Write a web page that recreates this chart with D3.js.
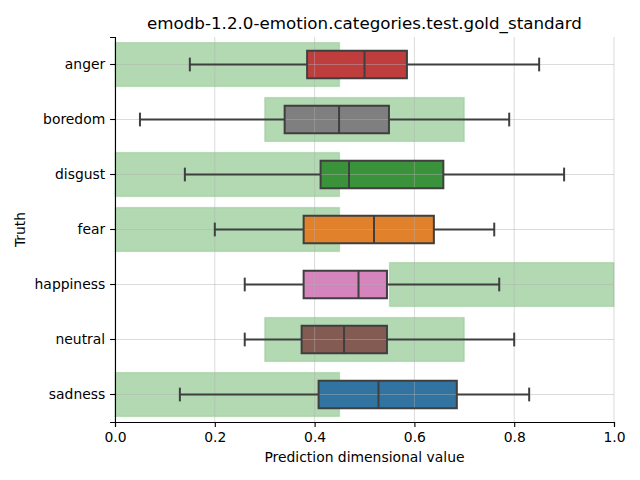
<!DOCTYPE html>
<html>
<head>
<meta charset="utf-8">
<script src="https://cdn.jsdelivr.net/npm/d3@7"></script>
<style>
  html, body { margin: 0; padding: 0; background: #fff; }
  svg { display: block; font-family: "DejaVu Sans", sans-serif; }
</style>
</head>
<body>
<svg id="chart" width="640" height="480"></svg>
<script>
const categories = ["anger", "boredom", "disgust", "fear", "happiness", "neutral", "sadness"];
const whiskerLow  = [0.15, 0.05, 0.14, 0.20, 0.26, 0.26, 0.13];
const q1          = [0.385, 0.34, 0.412, 0.378, 0.378, 0.374, 0.408];
const median      = [0.50, 0.449, 0.469, 0.519, 0.488, 0.459, 0.528];
const q3          = [0.585, 0.549, 0.658, 0.639, 0.545, 0.545, 0.685];
const whiskerHigh = [0.85, 0.79, 0.90, 0.76, 0.77, 0.80, 0.83];
const rangeLow    = [0.0, 0.3, 0.0, 0.0, 0.55, 0.3, 0.0];
const rangeHigh   = [0.45, 0.7, 0.45, 0.45, 1.0, 0.7, 0.45];
const boxColors   = ["#c03d3e", "#7f7f7f", "#3a923a", "#e1812c", "#d684bd", "#845b53", "#3274a1"];
const xTicks      = [0.0, 0.2, 0.4, 0.6, 0.8, 1.0];
const titleText   = "emodb-1.2.0-emotion.categories.test.gold_standard";
const xLabelText  = "Prediction dimensional value";
const yLabelText  = "Truth";

(function () {
const rows = categories.map((c, i) => ({
  cat: c, lo: whiskerLow[i], q1: q1[i], med: median[i], q3: q3[i], hi: whiskerHigh[i],
  rLo: rangeLow[i], rHi: rangeHigh[i], color: boxColors[i]
}));

const svg = d3.select("#chart");
const mLeft = 115, mRight = 614, mTop = 37, mBottom = 422;
const x = d3.scaleLinear().domain([0, 1]).range([mLeft, mRight]);
const y = d3.scaleBand().domain(categories).range([mTop, mBottom]).padding(0);
const bw = y.bandwidth();
const yc = c => y(c) + bw / 2;

// green ranges
svg.append("g").selectAll("rect").data(rows).join("rect")
  .attr("x", d => x(d.rLo))
  .attr("width", d => x(d.rHi) - x(d.rLo))
  .attr("y", d => yc(d.cat) - bw * 0.4)
  .attr("height", bw * 0.8)
  .attr("fill", "#008000").attr("fill-opacity", 0.3)
  .attr("stroke", "#008000").attr("stroke-opacity", 0.15).attr("stroke-width", 1.3);

const boxH = bw * 0.5;
const capH = boxH * 0.5;
const lineC = "#3f3f3f", lw = 2;

// box fills
svg.append("g").selectAll("rect").data(rows).join("rect")
  .attr("x", d => x(d.q1)).attr("width", d => x(d.q3) - x(d.q1))
  .attr("y", d => yc(d.cat) - boxH / 2).attr("height", boxH)
  .attr("fill", d => d.color);

// grid
const grid = svg.append("g").attr("stroke", "#b0b0b0").attr("stroke-opacity", 0.45).attr("stroke-width", 1);
xTicks.forEach(t => grid.append("line").attr("x1", x(t)).attr("x2", x(t)).attr("y1", mTop).attr("y2", mBottom));
categories.forEach(c => grid.append("line").attr("x1", mLeft).attr("x2", mRight).attr("y1", yc(c)).attr("y2", yc(c)));

// box lines
const g = svg.append("g").attr("stroke", lineC).attr("stroke-width", lw);
rows.forEach(d => {
  const cy = yc(d.cat);
  g.append("line").attr("x1", x(d.lo)).attr("x2", x(d.q1)).attr("y1", cy).attr("y2", cy);
  g.append("line").attr("x1", x(d.q3)).attr("x2", x(d.hi)).attr("y1", cy).attr("y2", cy);
  [d.lo, d.hi].forEach(v => {
    g.append("line").attr("x1", x(v)).attr("x2", x(v))
      .attr("y1", cy - capH / 2).attr("y2", cy + capH / 2);
  });
  g.append("rect").attr("x", x(d.q1)).attr("width", x(d.q3) - x(d.q1))
    .attr("y", cy - boxH / 2).attr("height", boxH).attr("fill", "none");
  g.append("line").attr("x1", x(d.med)).attr("x2", x(d.med))
    .attr("y1", cy - boxH / 2).attr("y2", cy + boxH / 2);
});

// axes
const fs = "13.9px";
const xAxis = svg.append("g").attr("transform", `translate(0,${mBottom})`)
  .call(d3.axisBottom(x).tickValues(xTicks).tickFormat(d3.format(".1f")).tickSizeOuter(0).tickSize(4.9).tickPadding(4.9));
const yAxis = svg.append("g").attr("transform", `translate(${mLeft},0)`)
  .call(d3.axisLeft(y).tickSizeOuter(0).tickSize(4.9).tickPadding(4.9));
[xAxis, yAxis].forEach(a => {
  a.select(".domain").attr("stroke", "#000").attr("stroke-width", 1.1);
  a.selectAll(".tick line").attr("stroke", "#000").attr("stroke-width", 1.1);
  a.selectAll(".tick text").attr("fill", "#000").style("font-size", fs).style("font-family", "DejaVu Sans");
});

svg.append("text").attr("x", (mLeft + mRight) / 2).attr("y", 29)
  .attr("text-anchor", "middle").style("font-size", "16.7px").text(titleText);
svg.append("text").attr("x", (mLeft + mRight) / 2).attr("y", 462)
  .attr("text-anchor", "middle").style("font-size", fs).text(xLabelText);
svg.append("text").attr("transform", `translate(25,${(mTop + mBottom) / 2}) rotate(-90)`)
  .attr("text-anchor", "middle").style("font-size", fs).text(yLabelText);
})();
</script>
</body>
</html>
